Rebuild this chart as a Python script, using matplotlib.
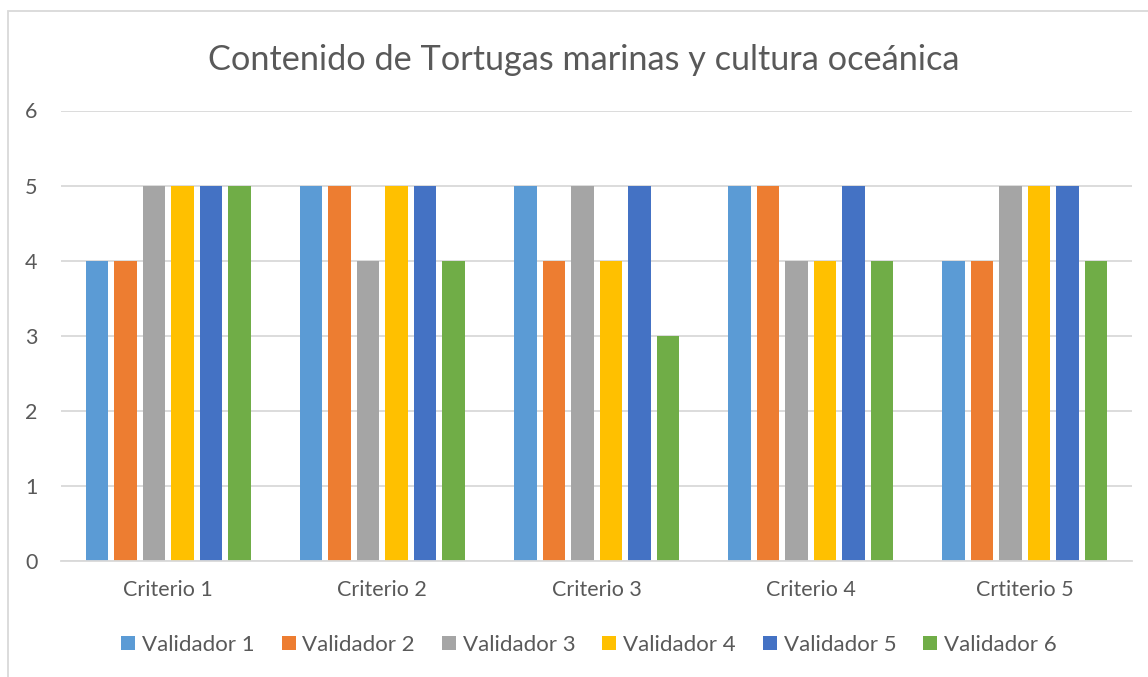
import matplotlib
matplotlib.use("Agg")
import matplotlib.pyplot as plt
from matplotlib.patches import Rectangle, Patch
import numpy as np

plt.rcParams['font.family'] = ['Lato', 'DejaVu Sans']

categories = ["Criterio 1", "Criterio 2", "Criterio 3", "Criterio 4", "Crtiterio 5"]
series_names = ["Validador 1", "Validador 2", "Validador 3", "Validador 4", "Validador 5", "Validador 6"]
validador_1 = [4, 5, 5, 5, 4]
validador_2 = [4, 5, 4, 5, 4]
validador_3 = [5, 4, 5, 4, 5]
validador_4 = [5, 5, 4, 4, 5]
validador_5 = [5, 5, 5, 5, 5]
validador_6 = [5, 4, 3, 4, 4]
series_values = [validador_1, validador_2, validador_3, validador_4, validador_5, validador_6]
colors = ["#5B9BD5", "#ED7D31", "#A5A5A5", "#FFC000", "#4472C4", "#70AD47"]
title = "Contenido de Tortugas marinas y cultura oceánica"
yticks = [0, 1, 2, 3, 4, 5, 6]

W, H = 1148, 677
fig = plt.figure(figsize=(W / 100, H / 100), dpi=100)
ax = fig.add_axes([61 / W, 1 - 561 / H, (1132 - 61) / W, (561 - 110.5) / H])

# chart frame
fig.patches.append(Rectangle((8 / W, -0.1), 1.2, 1.1 - 11 / H, transform=fig.transFigure,
                             fill=False, edgecolor="#D9D9D9", linewidth=1.3))

x = np.arange(len(categories))
n = len(series_names)
step = 28.5 / 214.2
bw = 22.5 / 214.2
for i, (name, vals, c) in enumerate(zip(series_names, series_values, colors)):
    offs = step * (i - (n - 1) / 2)
    ax.bar(x + offs, vals, width=bw, color=c, label=name, zorder=3)

ax.set_xlim(-0.5, len(categories) - 0.5)
ax.set_ylim(0, 6)
ax.set_yticks(yticks)
ax.set_xticks(x)
ax.set_xticklabels(categories)
ax.yaxis.grid(True, color="#D9D9D9", linewidth=1.3, zorder=0)
ax.set_axisbelow(True)
for s in ["top", "right", "left"]:
    ax.spines[s].set_visible(False)
ax.spines["bottom"].set_color("#D9D9D9")
ax.spines["bottom"].set_linewidth(1.3)
ax.spines["bottom"].set_zorder(4)
ax.tick_params(axis="both", length=0, labelsize=15.5, labelcolor="#595959")
ax.tick_params(axis="y", pad=17)
ax.tick_params(axis="x", pad=14)

fig.text(584 / W, 1 - 60 / H, title, ha="center", va="center", fontsize=24.7, color="#595959")

handles = [Patch(facecolor=c, edgecolor="none") for c in colors]
fig.legend(handles, series_names, loc="center", bbox_to_anchor=(589 / W, 1 - 645 / H), ncol=6,
           frameon=False, fontsize=16, labelcolor="#595959", handlelength=0.63, handleheight=0.63,
           handletextpad=0.3, columnspacing=1.22, borderpad=0, borderaxespad=0)

fig.savefig("out.png", dpi=100)
